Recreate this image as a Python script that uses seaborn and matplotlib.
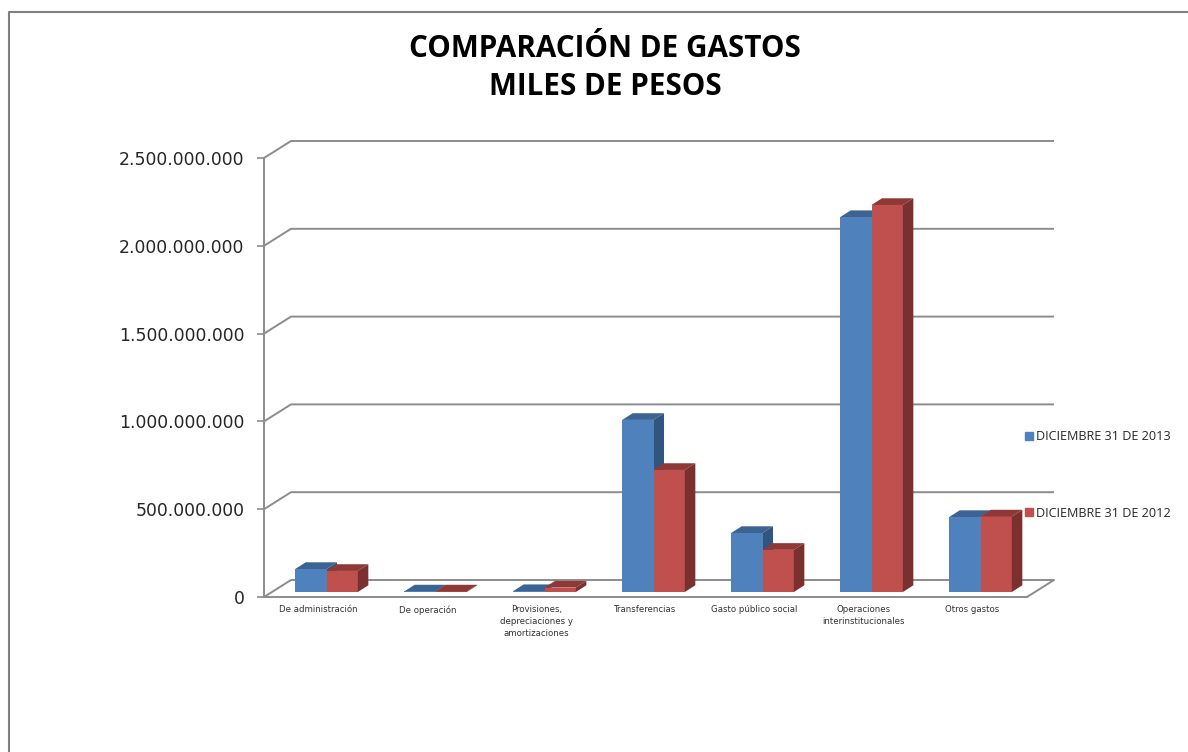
"""Comparación de gastos (miles de pesos), barras con efecto 3D."""

import matplotlib
matplotlib.use("Agg")
import matplotlib.pyplot as plt
import matplotlib.ticker as mticker
from matplotlib.lines import Line2D
from matplotlib.patches import Polygon
import pandas as pd
import seaborn as sns

categorias = [
    "De administración",
    "De operación",
    "Provisiones,\ndepreciaciones y\namortizaciones",
    "Transferencias",
    "Gasto público social",
    "Operaciones\ninterinstitucionales",
    "Otros gastos",
]
serie_2013 = [131e6, 3e6, 5e6, 980e6, 336e6, 2135e6, 427e6]
serie_2012 = [120e6, 3e6, 25e6, 695e6, 240e6, 2204e6, 430e6]
nombre_2013 = "DICIEMBRE 31 DE 2013"
nombre_2012 = "DICIEMBRE 31 DE 2012"
y_ticks = [0, 500e6, 1000e6, 1500e6, 2000e6, 2500e6]
titulo = "COMPARACIÓN DE GASTOS\nMILES DE PESOS"

AZUL = "#4F81BD"
ROJO = "#C0504D"
AZUL_TOPE = "#3B6492"
ROJO_TOPE = "#8F3937"
AZUL_LADO = "#31557F"
ROJO_LADO = "#7A302E"
GRIS = "#8C8C8C"

W, H = 1188, 752
PX_CAT = 109.0
PX_Y = 439.0 / 2.5e9

sns.set_theme(style="white")
plt.rcParams["font.family"] = ["DejaVu Sans"]

df = pd.DataFrame({
    "categoria": categorias * 2,
    "valor": serie_2013 + serie_2012,
    "serie": [nombre_2013] * 7 + [nombre_2012] * 7,
})

fig = plt.figure(figsize=(W / 100, H / 100), dpi=100, facecolor="white")


def ejes_px(izq, der, arriba, abajo):
    return fig.add_axes([izq / W, 1 - abajo / H, (der - izq) / W, (abajo - arriba) / H])


# plano frontal: ejes, marcas y paredes
ax_frente = ejes_px(264, 1027, 158, 597)
ax_frente.set_xlim(-0.5, 6.5)
ax_frente.set_ylim(0, 2.5e9)
ax_frente.patch.set_visible(False)
ax_frente.set_zorder(1)
for lado in ["top", "right"]:
    ax_frente.spines[lado].set_visible(False)
for lado in ["left", "bottom"]:
    ax_frente.spines[lado].set_color(GRIS)
    ax_frente.spines[lado].set_linewidth(1.4)
ax_frente.set_yticks(y_ticks)
ax_frente.yaxis.set_major_formatter(
    mticker.FuncFormatter(lambda v, _: f"{int(v):,}".replace(",", "."))
)
ax_frente.tick_params(axis="y", left=True, length=5, width=1.2, color=GRIS, pad=9,
                      labelsize=12.4, labelcolor="#262626")
ax_frente.set_xticks(range(7))
ax_frente.set_xticklabels(categorias, fontsize=6.2, color="#333333", linespacing=1.4)
ax_frente.tick_params(axis="x", bottom=False, pad=0)

fondo_x = 27 / PX_CAT
fondo_y = 17 / PX_Y
for v in y_ticks:
    ax_frente.plot([-0.5, -0.5 + fondo_x, 6.5 + fondo_x], [v, v + fondo_y, v + fondo_y],
                   color=GRIS, lw=1.4, clip_on=False, solid_capstyle="butt")
ax_frente.plot([6.5, 6.5 + fondo_x], [0, fondo_y], color=GRIS, lw=1.4, clip_on=False)

# plano de las barras, unos pixeles mas adentro
ax = ejes_px(272, 1035, 153, 592)
ax.set_zorder(2)
ax.patch.set_visible(False)
sns.barplot(data=df, x="categoria", y="valor", hue="serie", order=categorias,
            hue_order=[nombre_2013, nombre_2012], palette=[AZUL, ROJO],
            width=0.575, gap=0, saturation=1, edgecolor="none", linewidth=0,
            ax=ax, zorder=3)
ax.set_xlim(-0.5, 6.5)
ax.set_ylim(0, 2.5e9)
ax.axis("off")

# caras superior y lateral de cada barra
prof_x = 10.5 / PX_CAT
prof_y = 6.7 / PX_Y
colores_3d = [(AZUL_TOPE, AZUL_LADO, 2)] * 7 + [(ROJO_TOPE, ROJO_LADO, 4)] * 7
for bar, (c_tope, c_lado, z) in zip(ax.patches[:14], colores_3d):
    x0, x1, alto = bar.get_x(), bar.get_x() + bar.get_width(), bar.get_height()
    ax.add_patch(Polygon([(x0, alto), (x1, alto), (x1 + prof_x, alto + prof_y), (x0 + prof_x, alto + prof_y)],
                         closed=True, fc=c_tope, ec="none", zorder=z, clip_on=False))
    ax.add_patch(Polygon([(x1, 0), (x1 + prof_x, prof_y), (x1 + prof_x, alto + prof_y), (x1, alto)],
                         closed=True, fc=c_lado, ec="none", zorder=z, clip_on=False))

ax.get_legend().remove()
handles = [Line2D([], [], ls="none", marker="s", ms=5.8, color=c) for c in (AZUL, ROJO)]
fig.legend(handles, [nombre_2013, nombre_2012], loc="center left",
           bbox_to_anchor=(1011 / W, 1 - 475 / H), frameon=False, handletextpad=0.05,
           handlelength=1.0, labelspacing=5.04,
           prop={"family": "Open Sans", "size": 9.1}, labelcolor="#262626")

fig.text(605 / W, 1 - 68 / H, titulo, ha="center", va="center", fontsize=21.3,
         fontweight="bold", family="Open Sans", color="black", linespacing=1.37)

# marco del grafico, sigue hasta los bordes de la imagen
fig.add_artist(Line2D([8.5 / W, 8.5 / W, 1], [0, 1 - 12 / H, 1 - 12 / H],
                      color="#808080", lw=1.5, transform=fig.transFigure))

fig.savefig("out.png", dpi=100)
plt.close(fig)
